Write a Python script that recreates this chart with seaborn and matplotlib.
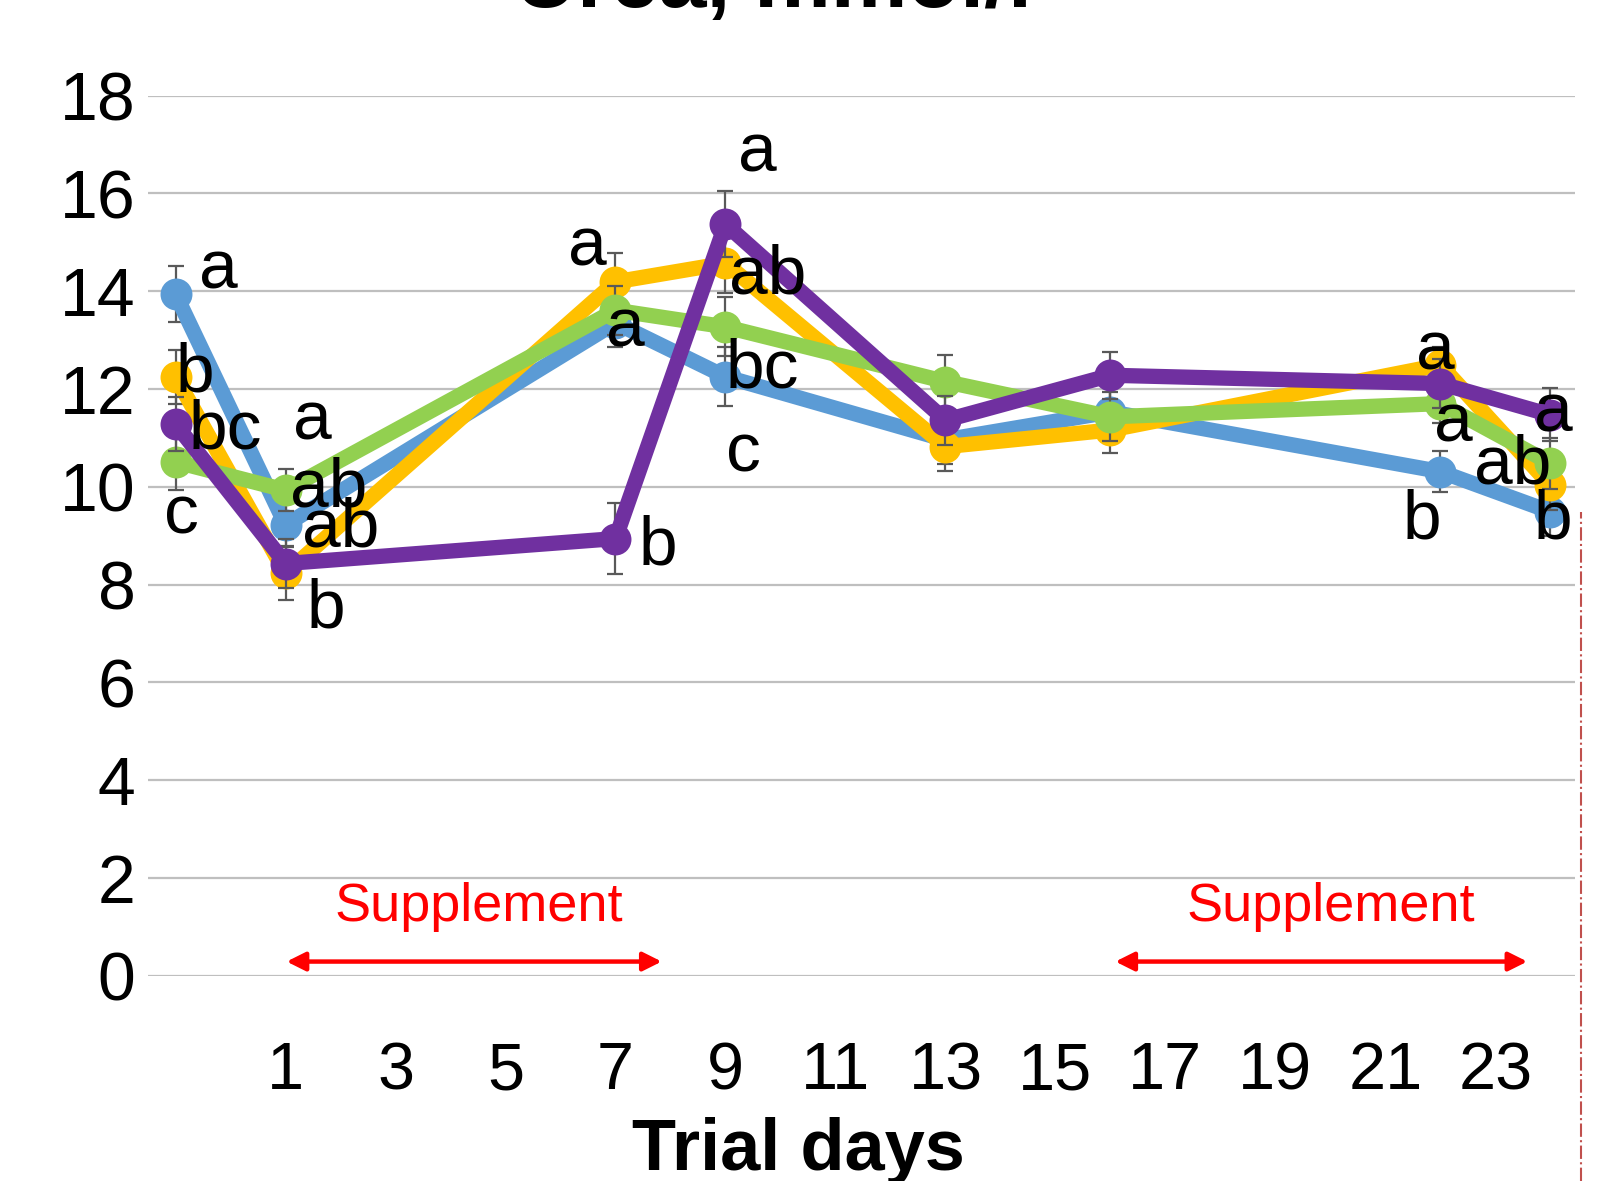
import numpy as np
import pandas as pd
import matplotlib
matplotlib.use("Agg")
import matplotlib.pyplot as plt
import seaborn as sns

# trial days where samples were taken
days = [-1, 1, 7, 9, 13, 16, 22, 24]

# urea, mmol/l per group
blue = [13.94, 9.22, 13.35, 12.25, 10.96, 11.53, 10.31, 9.49]
yellow = [12.25, 8.23, 14.19, 14.57, 10.82, 11.16, 12.49, 10.03]
green = [10.51, 9.93, 13.61, 13.27, 12.15, 11.43, 11.70, 10.48]
purple = [11.28, 8.43, 8.94, 15.37, 11.36, 12.28, 12.11, 11.47]

blue_err = [0.57, 0.45, 0.50, 0.60, 0.50, 0.50, 0.42, 0.50]
yellow_err = [0.55, 0.55, 0.60, 0.60, 0.50, 0.47, 0.37, 0.50]
green_err = [0.58, 0.43, 0.50, 0.60, 0.54, 0.50, 0.40, 0.52]
purple_err = [0.55, 0.50, 0.73, 0.68, 0.50, 0.48, 0.50, 0.54]

groups = ["G1", "G2", "G3", "G4"]
colors = ["#5B9BD5", "#FFC000", "#92D050", "#7030A0"]

# significance letters (text, day position, baseline value)
letters = ["a", "b", "bc", "c", "a", "ab", "ab", "b", "a", "a", "b",
           "a", "ab", "bc", "c", "a", "a", "b", "ab", "a", "b"]
letter_day = [-0.22, -0.64, -0.09, -0.89, 1.49, 1.78, 2.0, 1.73, 6.49, 7.18, 7.78,
              9.58, 9.76, 9.67, 9.33, 21.91, 22.24, 21.67, 23.31, 24.05, 24.05]
letter_val = [14.06, 11.94, 10.79, 9.05, 10.96, 9.59, 8.77, 7.13, 14.53, 12.86, 8.40,
              16.44, 13.96, 12.02, 10.31, 12.39, 10.92, 8.95, 10.07, 11.12, 8.95]

xticks = list(range(1, 24, 2))
yticks = list(range(0, 19, 2))

rows = []
for g, vals, errs in zip(groups, [blue, yellow, green, purple],
                         [blue_err, yellow_err, green_err, purple_err]):
    for d, v, e in zip(days, vals, errs):
        rows.append({"group": g, "day": d, "urea": v, "err": e})
df = pd.DataFrame(rows)

sns.set_theme(style="white")
plt.rcParams["font.family"] = ["Liberation Sans", "DejaVu Sans"]
plt.rcParams["text.color"] = "black"
plt.rcParams["xtick.color"] = "black"
plt.rcParams["ytick.color"] = "black"

fig = plt.figure(figsize=(16.04, 11.81), dpi=100)
ax = fig.add_axes([0.0923, 0.1738, 0.8897, 0.7453])

for i, (g, c) in enumerate(zip(groups, colors)):
    sub = df[df["group"] == g]
    ax.errorbar(sub["day"], sub["urea"], yerr=sub["err"], fmt="none",
                ecolor="#595959", elinewidth=1.6, capsize=6, capthick=1.6,
                zorder=3 + 2 * i)
    sns.lineplot(data=sub, x="day", y="urea", color=c, marker="o",
                 markersize=23, markeredgewidth=0, linewidth=11,
                 ax=ax, zorder=4 + 2 * i, legend=False)

for t, d, v in zip(letters, letter_day, letter_val):
    ax.text(d, v, t, fontsize=50, ha="center", va="baseline",
            color="black", zorder=20, clip_on=False)

# supplement periods
for x0, x1, xc in [(1.02, 7.84, 4.51), (16.09, 23.58, 20.0)]:
    ax.annotate("", xy=(x0, 0.29), xytext=(x1, 0.29),
                arrowprops=dict(arrowstyle="<|-|>", color="#FF0000", lw=3.2,
                                mutation_scale=28, shrinkA=0, shrinkB=0),
                zorder=20)
    ax.text(xc, 1.12, "Supplement", color="#FF0000", fontsize=39,
            ha="center", va="baseline", zorder=20)

ax.set_xlim(-1.5, 24.45)
ax.set_ylim(0, 18)
ax.set_xticks(xticks)
ax.set_yticks(yticks)
ax.tick_params(axis="x", labelsize=48, pad=47, length=0)
ax.tick_params(axis="y", labelsize=49, pad=9, length=0)
ax.grid(axis="y", color="#BFBFBF", linewidth=1.6)
ax.grid(axis="x", visible=False)
for s in ax.spines.values():
    s.set_visible(False)
ax.set_xlabel("")
ax.set_ylabel("")

fig.text(0.4975, 0.0093, "Trial days", fontsize=52, fontweight="bold",
         ha="center", va="baseline")
fig.text(0.482, 0.994, "Urea, mmol/l", fontsize=62, fontweight="bold",
         ha="center", va="baseline")

fig.add_artist(plt.Line2D([0.9857, 0.9857], [0.0, 0.5665], color="#C0504D",
                          linewidth=1.5, linestyle="-."))

fig.savefig("out.png", dpi=100)
